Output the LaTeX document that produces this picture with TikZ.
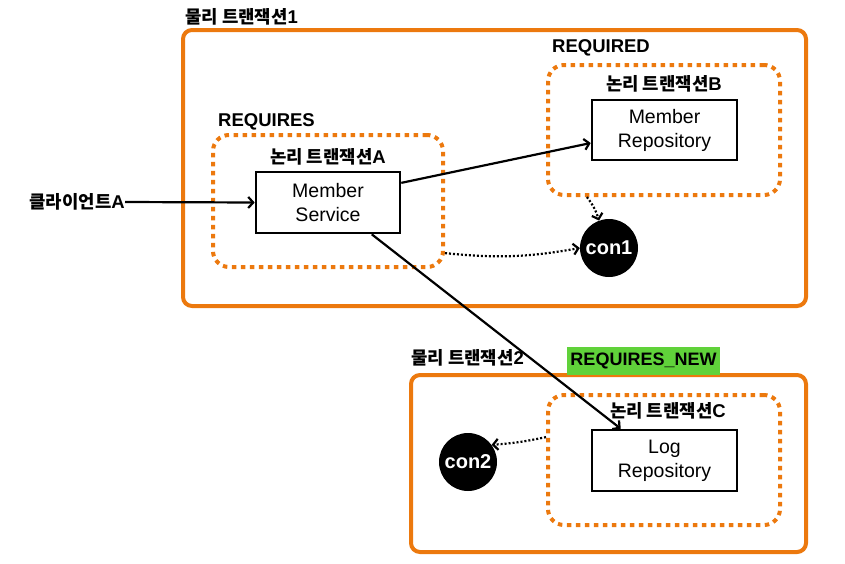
\documentclass[tikz,border=0pt]{standalone}
\usepackage{fontspec}
\setmainfont{Liberation Sans}
\newfontfamily\kr{Noto Sans CJK KR}
\newcommand\krt[1]{{\kr\fontsize{17.8}{20}\selectfont #1}}
\usetikzlibrary{arrows.meta}
\definecolor{txorange}{RGB}{236,121,14}
\definecolor{newgreen}{RGB}{96,210,58}
\tikzset{
  phys/.style={draw=txorange, line width=4pt, rounded corners=9pt},
  logic/.style={draw=txorange, line width=4pt, dash pattern=on 4.5pt off 4.5pt, rounded corners=16pt},
  comp/.style={draw, line width=2.6pt, align=center, font=\fontsize{19.5}{24}\selectfont},
  conn/.style={circle, fill=black, text=white, minimum size=58pt, inner sep=0pt, font=\fontsize{20}{22}\selectfont\bfseries},
  lbl/.style={font=\fontsize{18.5}{21}\selectfont\bfseries, inner sep=0pt},
  call/.style={-{Straight Barb[length=5pt,width=11pt]}, line width=2.2pt},
  hold/.style={call, dash pattern=on 2pt off 2pt}
}
\begin{document}
\begin{tikzpicture}[x=1pt,y=-1pt]
  \useasboundingbox (0,0) rectangle (845,563);
  % physical transactions
  \node[phys, minimum width=623pt, minimum height=276pt] (p1) at (494.5,168) {};
  \node[phys, minimum width=395pt, minimum height=177pt] (p2) at (608.5,463.5) {};
  \node[lbl, anchor=west] (p1l) at (185,17) {\krt{물리 트랜잭션}1};
  \node[lbl, anchor=west] (p2l) at (411,358) {\krt{물리 트랜잭션}2};
  % propagation
  \node[lbl, anchor=west] (req) at (552,48) {REQUIRED};
  \node[lbl, anchor=west] (reqs) at (218,122) {REQUIRES};
  \node[lbl, fill=newgreen, minimum width=153pt, minimum height=28pt,
        font=\fontsize{18}{21}\selectfont\bfseries] (reqn) at (643.5,361) {REQUIRES\_NEW};
  % logical transactions
  \node[logic, minimum width=230pt, minimum height=132pt] (la) at (328,201) {};
  \node[logic, minimum width=232pt, minimum height=130pt] (lb) at (664,130) {};
  \node[logic, minimum width=232pt, minimum height=130pt] (lc) at (664,460) {};
  \node[lbl] (lal) at (328,157) {\krt{논리 트랜잭션}A};
  \node[lbl] (lbl) at (664,84) {\krt{논리 트랜잭션}B};
  \node[lbl] (lcl) at (668,411) {\krt{논리 트랜잭션}C};
  % components
  \node[comp, minimum width=144pt, minimum height=61pt] (ms) at (328,202.5) {Member\\Service};
  \node[comp, minimum width=145pt, minimum height=60pt] (mr) at (664.5,130) {Member\\Repository};
  \node[comp, minimum width=145pt, minimum height=61pt] (lr) at (664.5,460.5) {Log\\Repository};
  \node[conn] (c1) at (609,248) {con1};
  \node[conn] (c2) at (468,462) {con2};
  \node[lbl, anchor=east] (cl) at (125,202) {\krt{클라이언트}A};
  \begin{scope}
    \draw[call] (cl.east) -- (ms.west);
    \draw[call] (ms.15) -- (mr.190);
    \draw[call] (ms.-36) -- (lr.144);
    \draw[hold] (la.-24) to[bend right=8] (c1.west);
    \draw[hold] (lb.221) to[bend left=10] (c1.110);
    \draw[hold] (lc.169) to[bend left=4] (c2.36);
  \end{scope}
\end{tikzpicture}
\end{document}
